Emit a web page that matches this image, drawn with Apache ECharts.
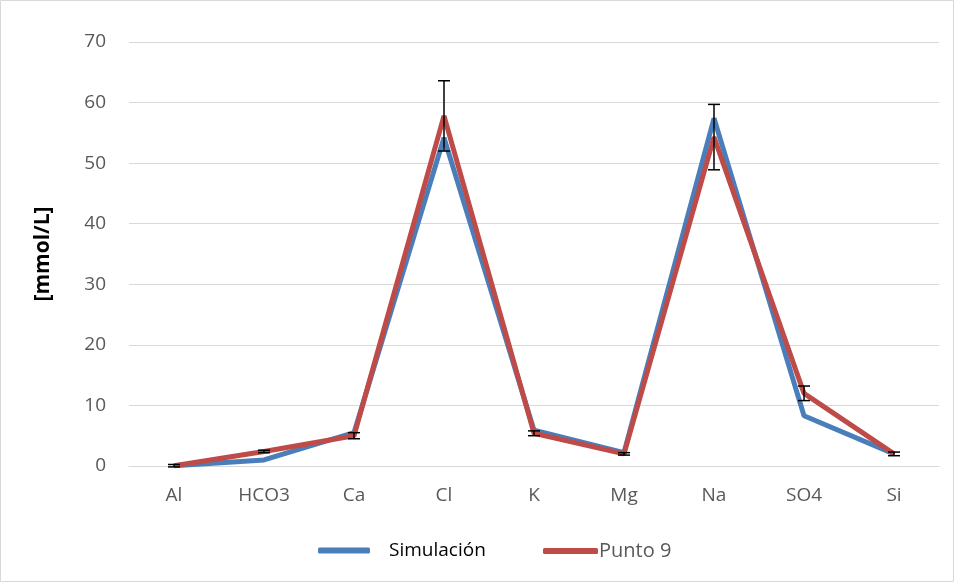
<!DOCTYPE html>
<html>
<head>
<meta charset="utf-8">
<script src="https://cdn.jsdelivr.net/npm/echarts@6/dist/echarts.min.js"></script>
<style>html,body{margin:0;padding:0;background:#fff}#c{width:955px;height:583px}</style>
</head>
<body>
<div id="c"></div>
<script>
var categories = ['Al', 'HCO3', 'Ca', 'Cl', 'K', 'Mg', 'Na', 'SO4', 'Si'];
var simulacion = [0.05, 1.0, 5.5, 54.2, 5.9, 2.2, 57.4, 8.3, 2.0];
var punto9 = [0.05, 2.4, 5.0, 57.8, 5.4, 2.0, 54.3, 12.0, 2.0];
var punto9Err = [0.2, 0.2, 0.5, 5.8, 0.4, 0.2, 5.4, 1.2, 0.3];
var yTicks = {min: 0, max: 70, interval: 10};

var errData = categories.map(function (c, i) {
  return [i, punto9[i] - punto9Err[i], punto9[i] + punto9Err[i]];
});

var FONT = 'Open Sans, Noto Sans, sans-serif';
var chart = echarts.init(document.getElementById('c'), null, {renderer: 'canvas'});
chart.setOption({
  animation: false,
  backgroundColor: '#fff',
  graphic: [{
    type: 'rect', shape: {x: 0.5, y: 0.5, width: 953, height: 581},
    style: {fill: 'none', stroke: '#D9D9D9', lineWidth: 1}, silent: true
  }],
  grid: {left: 129, right: 16, top: 42, bottom: 117, containLabel: false, outerBoundsMode: 'none'},
  xAxis: {
    type: 'category', data: categories, boundaryGap: true,
    axisLine: {lineStyle: {color: '#D9D9D9', width: 1}},
    axisTick: {show: false},
    axisLabel: {color: '#595959', fontFamily: FONT, fontSize: 19, margin: 20}
  },
  yAxis: {
    type: 'value', min: yTicks.min, max: yTicks.max, interval: yTicks.interval,
    name: '[mmol/L]', nameLocation: 'middle', nameGap: 75, nameRotate: 90,
    nameTextStyle: {color: '#000', fontWeight: 'bold', fontSize: 21, fontFamily: FONT},
    axisLine: {show: false}, axisTick: {show: false},
    splitLine: {lineStyle: {color: '#D9D9D9', width: 1}},
    axisLabel: {color: '#595959', fontFamily: FONT, fontSize: 19, margin: 23}
  },
  legend: [{
    data: ['Simulación'], left: 313, top: 536, itemWidth: 52, itemHeight: 6, itemGap: 0,
    icon: 'roundRect',
    textStyle: {color: '#000', fontSize: 19, fontFamily: FONT, padding: [0, 0, 10, 14]}
  }, {
    data: ['Punto 9'], left: 538, top: 536, itemWidth: 55, itemHeight: 6, itemGap: 0,
    icon: 'roundRect',
    textStyle: {color: '#595959', fontSize: 20, fontFamily: FONT, padding: [4, 0, 0, -4]}
  }],
  series: [{
    name: 'Simulación', type: 'line', data: simulacion, symbol: 'none',
    lineStyle: {color: '#4A7EBB', width: 5}, itemStyle: {color: '#4A7EBB'}, z: 2
  }, {
    name: 'Punto 9', type: 'line', data: punto9, symbol: 'none',
    lineStyle: {color: '#BE4B48', width: 5}, itemStyle: {color: '#BE4B48'}, z: 3
  }, {
    name: 'err', type: 'custom', data: errData, z: 4,
    renderItem: function (params, api) {
      var x = api.value(0);
      var lo = api.coord([x, api.value(1)]);
      var hi = api.coord([x, api.value(2)]);
      var hw = 6;
      var st = {stroke: '#000', lineWidth: 1.5};
      return {type: 'group', children: [
        {type: 'line', shape: {x1: hi[0], y1: hi[1], x2: lo[0], y2: lo[1]}, style: st},
        {type: 'line', shape: {x1: hi[0] - hw, y1: hi[1], x2: hi[0] + hw, y2: hi[1]}, style: st},
        {type: 'line', shape: {x1: lo[0] - hw, y1: lo[1], x2: lo[0] + hw, y2: lo[1]}, style: st}
      ]};
    }
  }]
});
</script>
</body>
</html>
